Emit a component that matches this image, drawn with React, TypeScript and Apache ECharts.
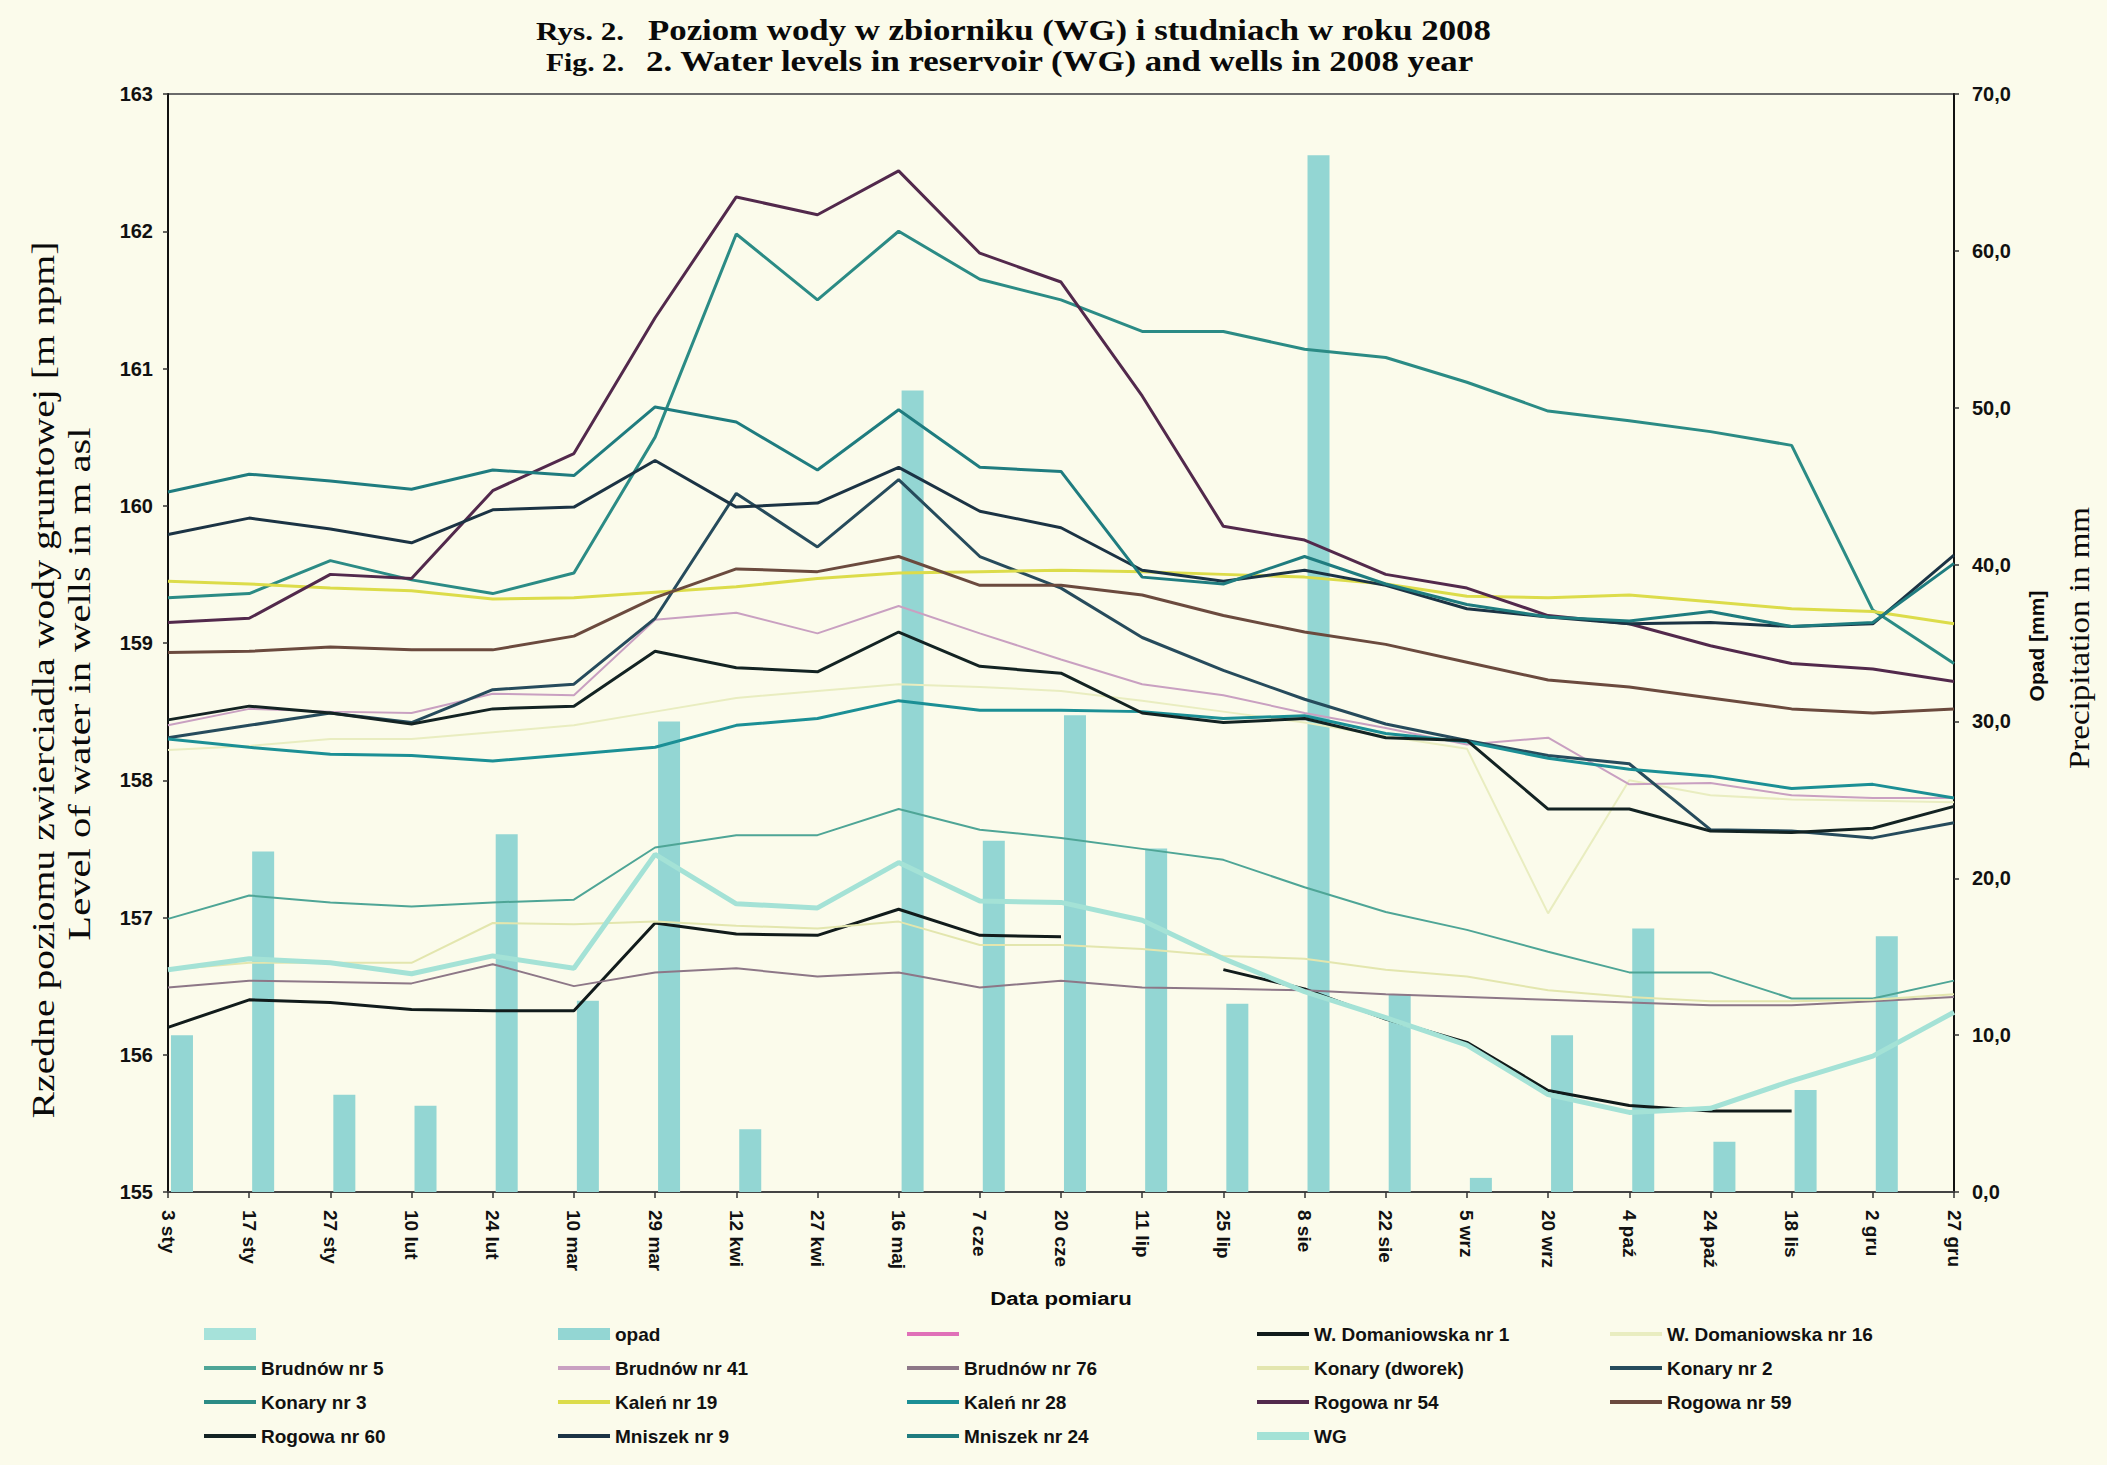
import React, { useEffect, useRef } from 'react';
import * as echarts from 'echarts';

// ---------- data ----------
const categories = ['3 sty', '17 sty', '27 sty', '10 lut', '24 lut', '10 mar', '29 mar', '12 kwi', '27 kwi', '16 maj', '7 cze', '20 cze', '11 lip', '25 lip', '8 sie', '22 sie', '5 wrz', '20 wrz', '4 paź', '24 paź', '18 lis', '2 gru', '27 gru'];

const leftTicks = { min: 155, max: 163, interval: 1 };
const rightTicks = { min: 0, max: 70, interval: 10 };

const unnamedBarValues: (number | null)[] = [];
const opad = [10.0, 21.7, 6.2, 5.5, 22.8, 12.2, 30.0, 4.0, null, 51.1, 22.4, 30.4, 21.9, 12.0, 66.1, 12.6, 0.9, 10.0, 16.8, 3.2, 6.5, 16.3, null];

const unnamedLineValues: (number | null)[] = [];
const domaniowska1 = [156.20, 156.40, 156.38, 156.33, 156.32, 156.32, 156.96, 156.88, 156.87, 157.06, 156.87, 156.86, null, 156.62, 156.48, 156.26, 156.09, 155.74, 155.63, 155.59, 155.59, null, null];
const domaniowska16 = [158.22, 158.25, 158.30, 158.30, 158.35, 158.40, 158.50, 158.60, 158.65, 158.70, 158.68, 158.65, 158.58, 158.50, 158.42, 158.32, 158.23, 157.03, 158.00, 157.89, 157.86, 157.85, 157.84];
const brudnow5 = [156.99, 157.16, 157.11, 157.08, 157.11, 157.13, 157.51, 157.60, 157.60, 157.79, 157.64, 157.58, 157.50, 157.42, 157.22, 157.04, 156.91, 156.75, 156.60, 156.60, 156.41, 156.41, 156.54];
const brudnow41 = [158.40, 158.52, 158.50, 158.49, 158.63, 158.62, 159.17, 159.22, 159.07, 159.27, 159.07, 158.88, 158.70, 158.62, 158.49, 158.38, 158.26, 158.31, 157.97, 157.98, 157.89, 157.87, 157.87];
const brudnow76 = [156.49, 156.54, 156.53, 156.52, 156.66, 156.50, 156.60, 156.63, 156.57, 156.60, 156.49, 156.54, 156.49, 156.48, 156.47, 156.44, 156.42, 156.40, 156.38, 156.36, 156.36, 156.39, 156.42];
const konaryDworek = [156.62, 156.67, 156.67, 156.67, 156.96, 156.95, 156.97, 156.94, 156.92, 156.97, 156.80, 156.80, 156.77, 156.72, 156.70, 156.62, 156.57, 156.47, 156.42, 156.39, 156.39, 156.40, 156.44];
const konary2 = [158.31, 158.40, 158.49, 158.42, 158.66, 158.70, 159.18, 160.09, 159.70, 160.19, 159.63, 159.40, 159.04, 158.80, 158.59, 158.41, 158.29, 158.18, 158.12, 157.64, 157.63, 157.58, 157.69];
const konary3 = [159.33, 159.36, 159.60, 159.46, 159.36, 159.51, 160.50, 161.98, 161.50, 162.00, 161.65, 161.50, 161.27, 161.27, 161.14, 161.08, 160.90, 160.69, 160.62, 160.54, 160.44, 159.24, 158.85];
const kalen19 = [159.45, 159.43, 159.40, 159.38, 159.32, 159.33, 159.37, 159.41, 159.47, 159.51, 159.52, 159.53, 159.52, 159.50, 159.48, 159.43, 159.34, 159.33, 159.35, 159.30, 159.25, 159.23, 159.14];
const kalen28 = [158.30, 158.24, 158.19, 158.18, 158.14, 158.19, 158.24, 158.40, 158.45, 158.58, 158.51, 158.51, 158.50, 158.45, 158.47, 158.34, 158.28, 158.16, 158.08, 158.03, 157.94, 157.97, 157.87];
const rogowa54 = [159.15, 159.18, 159.50, 159.47, 160.11, 160.38, 161.37, 162.25, 162.12, 162.44, 161.84, 161.63, 160.80, 159.85, 159.75, 159.50, 159.40, 159.20, 159.14, 158.98, 158.85, 158.81, 158.72];
const rogowa59 = [158.93, 158.94, 158.97, 158.95, 158.95, 159.05, 159.33, 159.54, 159.52, 159.63, 159.42, 159.42, 159.35, 159.20, 159.08, 158.99, 158.86, 158.73, 158.68, 158.60, 158.52, 158.49, 158.52];
const rogowa60 = [158.44, 158.54, 158.49, 158.41, 158.52, 158.54, 158.94, 158.82, 158.79, 159.08, 158.83, 158.78, 158.49, 158.42, 158.45, 158.31, 158.29, 157.79, 157.79, 157.63, 157.62, 157.65, 157.81];
const mniszek9 = [159.79, 159.91, 159.83, 159.73, 159.97, 159.99, 160.33, 159.99, 160.02, 160.28, 159.96, 159.84, 159.53, 159.45, 159.53, 159.42, 159.25, 159.19, 159.14, 159.15, 159.12, 159.14, 159.64];
const mniszek24 = [160.10, 160.23, 160.18, 160.12, 160.26, 160.22, 160.72, 160.61, 160.26, 160.70, 160.28, 160.25, 159.48, 159.43, 159.63, 159.43, 159.28, 159.19, 159.16, 159.23, 159.12, 159.15, 159.58];
const wg = [156.62, 156.70, 156.67, 156.59, 156.72, 156.63, 157.46, 157.10, 157.07, 157.40, 157.12, 157.11, 156.98, 156.70, 156.46, 156.27, 156.07, 155.71, 155.58, 155.61, 155.81, 155.99, 156.31];

const legendColumns = [
  [' ', 'Brudnów nr 5', 'Konary nr 3', 'Rogowa nr 60'],
  ['opad', 'Brudnów nr 41', 'Kaleń nr 19', 'Mniszek nr 9'],
  ['  ', 'Brudnów nr 76', 'Kaleń nr 28', 'Mniszek nr 24'],
  ['W. Domaniowska nr 1', 'Konary (dworek)', 'Rogowa nr 54', 'WG'],
  ['W. Domaniowska nr 16', 'Konary nr 2', 'Rogowa nr 59'],
];

// ---------- styles ----------
const SANS = '"Liberation Sans", Arial, sans-serif';
const SERIF = '"Liberation Serif", "Times New Roman", serif';
const legendLeft = [204, 558, 907, 1257, 1610];
const LINE_ICON = 'path://M0,0M0,4L52,4L52,8L0,8ZM52,12';
const THICK_ICON = 'path://M0,0M0,2L52,2L52,10L0,10ZM52,12';

type LineDef = { name: string; data: (number | null)[]; color: string; width: number };
const lineDefs: LineDef[] = [
  { name: '  ', data: unnamedLineValues, color: '#e070b8', width: 3 },
  { name: 'W. Domaniowska nr 1', data: domaniowska1, color: '#111b1b', width: 3 },
  { name: 'W. Domaniowska nr 16', data: domaniowska16, color: '#e9edc0', width: 2 },
  { name: 'Brudnów nr 5', data: brudnow5, color: '#4ea596', width: 2 },
  { name: 'Brudnów nr 41', data: brudnow41, color: '#c9a0c1', width: 2 },
  { name: 'Brudnów nr 76', data: brudnow76, color: '#8d7787', width: 2 },
  { name: 'Konary (dworek)', data: konaryDworek, color: '#e3e6ae', width: 2 },
  { name: 'Konary nr 2', data: konary2, color: '#264b5c', width: 3 },
  { name: 'Konary nr 3', data: konary3, color: '#2b8b85', width: 3 },
  { name: 'Kaleń nr 19', data: kalen19, color: '#dcdc4a', width: 3 },
  { name: 'Kaleń nr 28', data: kalen28, color: '#1b8f95', width: 3 },
  { name: 'Rogowa nr 54', data: rogowa54, color: '#52294c', width: 3 },
  { name: 'Rogowa nr 59', data: rogowa59, color: '#6b4a3e', width: 3 },
  { name: 'Rogowa nr 60', data: rogowa60, color: '#132323', width: 3 },
  { name: 'Mniszek nr 9', data: mniszek9, color: '#1b3344', width: 3 },
  { name: 'Mniszek nr 24', data: mniszek24, color: '#1f7c7f', width: 3 },
  { name: 'WG', data: wg, color: '#a4e2d6', width: 5 },
];
const barNames = [' ', 'opad'];

function textEl(text: string, x: number, y: number, font: string, opts: any = {}) {
  return {
    type: 'text',
    x,
    y,
    rotation: opts.rotation || 0,
    scaleX: opts.scaleX || 1,
    scaleY: 1,
    silent: true,
    style: {
      text,
      font,
      fill: '#0a0a0a',
      textAlign: opts.align || 'center',
      textVerticalAlign: 'middle',
      align: opts.align || 'center',
      verticalAlign: 'middle',
    },
  };
}

export default function App() {
  const ref = useRef<HTMLDivElement>(null);

  useEffect(() => {
    if (!ref.current) return;
    const chart = echarts.init(ref.current, null, { renderer: 'svg' });

    const series: any[] = [
      {
        type: 'bar', name: ' ', data: unnamedBarValues, yAxisIndex: 1,
        barWidth: 22, barGap: '27%', itemStyle: { color: '#a6e2da' }, z: 1,
      },
      {
        type: 'bar', name: 'opad', data: opad, yAxisIndex: 1,
        barWidth: 22, barGap: '27%', itemStyle: { color: '#93d6d3' }, z: 1,
      },
      ...lineDefs.map((d) => ({
        type: 'line', name: d.name, data: d.data, yAxisIndex: 0,
        symbol: 'none', showSymbol: false, connectNulls: false,
        lineStyle: { color: d.color, width: d.width }, itemStyle: { color: d.color },
        z: 2,
      })),
    ];

    const legends = legendColumns.map((names, i) => ({
      orient: 'vertical',
      left: legendLeft[i],
      top: 1324,
      padding: 0,
      itemWidth: 52,
      itemHeight: 12,
      itemGap: 14,
      selectedMode: false,
      textStyle: { fontFamily: SANS, fontWeight: 'bold', fontSize: 19, lineHeight: 20, color: '#111' },
      data: names.map((n) =>
        barNames.includes(n)
          ? { name: n, icon: 'rect' }
          : { name: n, icon: n === 'WG' ? THICK_ICON : LINE_ICON }
      ),
    }));

    const option: any = {
      animation: false,
      backgroundColor: '#fbfbeb',
      grid: {
        left: 168, right: 153, top: 94, bottom: 273,
        show: true, borderColor: '#6a6a6a', borderWidth: 2, backgroundColor: 'transparent',
      },
      legend: legends,
      xAxis: {
        type: 'category',
        data: categories,
        boundaryGap: false,
        axisLine: { lineStyle: { color: '#444', width: 2 } },
        axisTick: { show: true, length: 6, lineStyle: { color: '#333', width: 1.5 } },
        axisLabel: {
          rotate: -90, interval: 0, margin: 18,
          fontFamily: SANS, fontWeight: 'bold', fontSize: 19, color: '#111',
        },
        splitLine: { show: false },
      },
      yAxis: [
        {
          type: 'value', position: 'left',
          min: leftTicks.min, max: leftTicks.max, interval: leftTicks.interval,
          axisLine: { show: true, lineStyle: { color: '#111', width: 2 } },
          axisTick: { show: true, length: 5, lineStyle: { color: '#333', width: 1.5 } },
          axisLabel: { margin: 15, fontFamily: SANS, fontWeight: 'bold', fontSize: 20, color: '#111' },
          splitLine: { show: false },
        },
        {
          type: 'value', position: 'right',
          min: rightTicks.min, max: rightTicks.max, interval: rightTicks.interval,
          axisLine: { show: true, lineStyle: { color: '#111', width: 2 } },
          axisTick: { show: true, length: 5, lineStyle: { color: '#333', width: 1.5 } },
          axisLabel: {
            margin: 18, fontFamily: SANS, fontWeight: 'bold', fontSize: 20, color: '#111',
            formatter: (v: number) => v.toFixed(1).replace('.', ','),
          },
          splitLine: { show: false },
        },
      ],
      graphic: [
        textEl('Rys. 2.', 536, 31, `bold 26px ${SERIF}`, { align: 'left', scaleX: 1.2 }),
        textEl('Poziom wody w zbiorniku (WG) i studniach w roku 2008', 648, 30, `bold 30px ${SERIF}`, { align: 'left', scaleX: 1.16 }),
        textEl('Fig. 2.', 546, 62, `bold 26px ${SERIF}`, { align: 'left', scaleX: 1.14 }),
        textEl('2. Water levels in reservoir (WG) and wells in 2008 year', 646, 61, `bold 30px ${SERIF}`, { align: 'left', scaleX: 1.16 }),
        textEl('Rzedne poziomu zwierciadla wody gruntowej [m npm]', 43, 680, `32px ${SERIF}`, { rotation: Math.PI / 2, scaleX: 1.24 }),
        textEl('Level of water in wells in m asl', 79, 684, `32px ${SERIF}`, { rotation: Math.PI / 2, scaleX: 1.27 }),
        textEl('Opad [mm]', 2036, 646, `bold 21px ${SANS}`, { rotation: Math.PI / 2 }),
        textEl('Precipitation in mm', 2079, 638, `30px ${SERIF}`, { rotation: Math.PI / 2, scaleX: 1.1 }),
        textEl('Data pomiaru', 1061, 1299, `bold 18px ${SANS}`, { scaleX: 1.23 }),
      ],
      series,
    };

    chart.setOption(option);
    return () => chart.dispose();
  }, []);

  return (
    <div
      ref={ref}
      style={{ position: 'fixed', left: 0, top: 0, width: 2107, height: 1465 }}
    />
  );
}
